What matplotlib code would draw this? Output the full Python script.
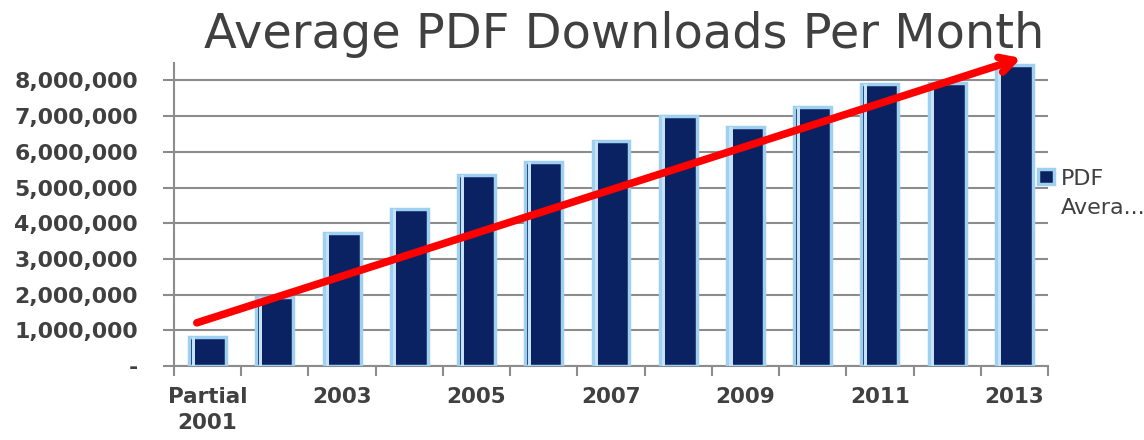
import matplotlib
matplotlib.use("Agg")
import matplotlib.pyplot as plt
from matplotlib.ticker import FuncFormatter, FixedLocator

categories = ["Partial\n2001", "2002", "2003", "2004", "2005", "2006", "2007",
              "2008", "2009", "2010", "2011", "2012", "2013"]
values = [800000, 1940000, 3740000, 4390000, 5360000, 5730000, 6310000,
          7010000, 6710000, 7250000, 7910000, 7930000, 8440000]
shown_labels = ["Partial\n2001", "", "2003", "", "2005", "", "2007",
                "", "2009", "", "2011", "", "2013"]
series_name = "PDF\nAvera..."
title = "Average PDF Downloads Per Month"

TXT = "#404040"
GRID = "#8c8c8c"
NAVY = "#0b2262"
EDGE = "#9fd0f0"

fig = plt.figure(figsize=(11.44, 4.40), dpi=100)
ax = fig.add_axes([174/1144, 1-366/440, (1048-174)/1144, (366-63)/440])

x = list(range(len(categories)))
bars = ax.bar(x, values, width=0.55, color=NAVY, edgecolor=EDGE, linewidth=2.5,
              zorder=3, label=series_name)
# bevel highlight on left side of each bar
ax.bar([i - 0.55/2 + 0.06 for i in x], values, width=0.045, color="#c4e2f8",
       linewidth=0, zorder=4)

ax.set_xlim(-0.5, len(categories) - 0.5)
ax.set_ylim(0, 8490000)

ax.yaxis.set_major_locator(FixedLocator([i * 1000000 for i in range(9)]))
ax.yaxis.set_major_formatter(FuncFormatter(lambda v, p: "-" if v == 0 else f"{int(v):,}"))
ax.grid(axis="y", color=GRID, linewidth=1.5, zorder=0)

ax.set_xticks(x)
ax.set_xticklabels(shown_labels)
ax.set_xticks([i - 0.5 for i in range(len(categories) + 1)], minor=True)
ax.tick_params(axis="x", which="major", length=0, pad=15, labelsize=15.5, labelcolor=TXT)
ax.tick_params(axis="x", which="minor", length=7, width=1.5, color=GRID)
ax.tick_params(axis="y", length=8, width=1.5, color=GRID, pad=18, labelsize=15.8, labelcolor=TXT)
for lab in ax.get_xticklabels() + ax.get_yticklabels():
    lab.set_fontweight("bold")
for lab in ax.get_xticklabels():
    lab.set_linespacing(1.4)

for s in ["top", "right"]:
    ax.spines[s].set_visible(False)
ax.spines["left"].set_color(GRID)
ax.spines["left"].set_linewidth(1.5)
ax.spines["bottom"].set_color(GRID)
ax.spines["bottom"].set_linewidth(1.5)

# trend arrow
ax.annotate("", xy=(12.1, 8630000), xytext=(-0.16, 1210000),
            arrowprops=dict(arrowstyle="->,head_length=1.0,head_width=0.55",
                            color="#ff0000", lw=5.5, shrinkA=0, shrinkB=0),
            annotation_clip=False, zorder=6)

fig.text(624/1144, 1-34/440, title, ha="center", va="center",
         fontsize=34.5, color=TXT)

leg = ax.legend(loc="upper left", bbox_to_anchor=(0.966, 0.715), frameon=False,
                handlelength=0.7, handleheight=0.7, handletextpad=0.3,
                fontsize=16, labelcolor=TXT)
for t in leg.get_texts():
    t.set_linespacing(1.55)
for p in leg.get_patches():
    p.set_y(p.get_y() + 12.5)

fig.savefig("out.png", dpi=100, facecolor="white")
